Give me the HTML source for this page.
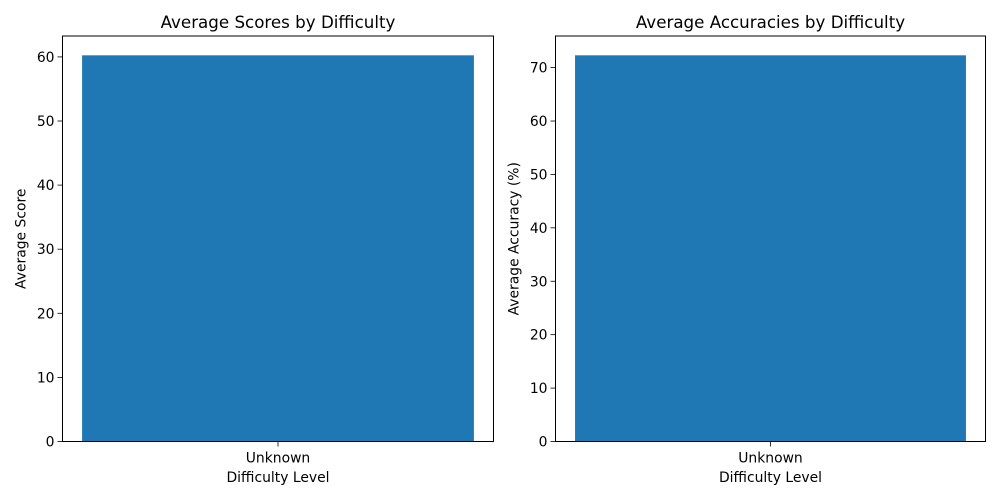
<!DOCTYPE html>
<html><head><meta charset="utf-8">
<style>
body{margin:0;background:#fff;}
svg{display:block;font-family:"DejaVu Sans","Liberation Sans",sans-serif;}
</style></head>
<body>
<svg id="c" width="1000" height="500"></svg>
<script>
const categories = ["Unknown"];
const scoreValues = [60.25];
const accuracyValues = [72.3];
const scoreTicks = [0,10,20,30,40,50,60];
const accuracyTicks = [0,10,20,30,40,50,60,70];

const svg = document.getElementById('c');
const NS = 'http://www.w3.org/2000/svg';
function mk(tag, attrs, parent){
  const e = document.createElementNS(NS, tag);
  for (const k in attrs) e.setAttribute(k, attrs[k]);
  (parent||svg).appendChild(e);
  return e;
}
function panel(name, x0, x1, y0, y1, values, ticks, title, ylabel){
  const g = mk('g', {});
  
  
  const ymax = Math.max(...values) * 1.05;
  const ys = v => y1 - (v / ymax) * (y1 - y0);
  const n = categories.length;
  const xmin = -0.4 - 0.05*(n-1+0.8), xmaxv = n-1+0.4 + 0.05*(n-1+0.8);
  const xs = v => x0 + (v - xmin)/(xmaxv - xmin)*(x1 - x0);
  categories.forEach((c,i)=>{
    const b = mk('rect', {x:xs(i-0.4), y:ys(values[i]), width:xs(i+0.4)-xs(i-0.4), height:y1-ys(values[i]), fill:'#1f77b4'}, g);
    
    
    mk('line', {x1:xs(i), x2:xs(i), y1:y1, y2:y1+5, stroke:'#000', 'stroke-width':0.8}, g);
    const t = mk('text', {x:xs(i), y:y1+21, 'text-anchor':'middle', 'font-size':13.9}, g);
    t.textContent = c;
    
    
  });
  ticks.forEach(v=>{
    const y = ys(v);
    mk('line', {x1:x0-5, x2:x0, y1:y, y2:y, stroke:'#000', 'stroke-width':0.8}, g);
    const t = mk('text', {x:x0-8, y:y+5, 'text-anchor':'end', 'font-size':13.9}, g);
    t.textContent = v;
    
    
  });
  const fr = mk('rect', {x:x0, y:y0, width:x1-x0, height:y1-y0, fill:'none', stroke:'#000', 'stroke-width':1}, g);
  
  
  const tt = mk('text', {x:(x0+x1)/2, y:y0-8, 'text-anchor':'middle', 'font-size':16.7}, g);
  tt.textContent = title;
  
  
  const xl = mk('text', {x:(x0+x1)/2, y:482, 'text-anchor':'middle', 'font-size':13.9}, g);
  xl.textContent = 'Difficulty Level';
  
  
  const yx = x0 - 37, yy = (y0+y1)/2;
  const yl = mk('text', {x:yx, y:yy, 'text-anchor':'middle', 'font-size':13.9, transform:`rotate(-90 ${yx} ${yy})`}, g);
  yl.textContent = ylabel;
  
  
}
panel('scores-panel', 62.5, 493.5, 36, 441.5, scoreValues, scoreTicks, 'Average Scores by Difficulty', 'Average Score');
panel('accuracy-panel', 555.5, 985.5, 36, 441.5, accuracyValues, accuracyTicks, 'Average Accuracies by Difficulty', 'Average Accuracy (%)');
</script>
</body></html>
